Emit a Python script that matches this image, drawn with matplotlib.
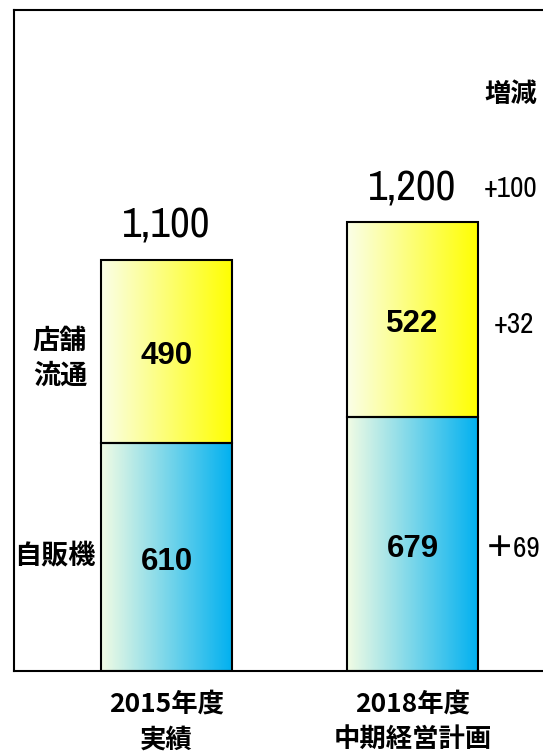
import matplotlib
matplotlib.use("Agg")
import matplotlib.pyplot as plt
import numpy as np
from matplotlib.colors import LinearSegmentedColormap

# values (units as shown on the chart)
years = ["2015年度\n実績", "2018年度\n中期経営計画"]
vending = [610, 679]      # 自販機
store = [490, 522]        # 店舗流通
totals = [1100, 1200]
diff_total = "+100"
diff_store = "+32"
diff_vending = "＋69"

num_font = ["Archivo Narrow", "Noto Sans CJK JP", "DejaVu Sans"]
bold_font = ["Liberation Sans", "Noto Sans CJK JP", "DejaVu Sans"]
jp_font = ["Noto Sans CJK JP", "DejaVu Sans"]

blue_cmap = LinearSegmentedColormap.from_list("blue", ["#F2FCE4", "#00B0F0"])
yellow_cmap = LinearSegmentedColormap.from_list("yellow", ["#FAFEE8", "#FFFF00"])

fig = plt.figure(figsize=(5.43, 7.56), dpi=100)
ax = fig.add_axes([0.0258, 0.1124, 0.9742, 0.8744])

x = np.arange(len(years))
w = 0.5325
bot = ax.bar(x, vending, width=w, facecolor="none", edgecolor="black", linewidth=1.5, zorder=3)
top = ax.bar(x, store, width=w, bottom=vending, facecolor="none", edgecolor="black", linewidth=1.5, zorder=3)

# horizontal gradient fill inside each rectangle
grad = np.linspace(0, 1, 256).reshape(1, -1)
for bars, cmap in ((bot, blue_cmap), (top, yellow_cmap)):
    for r in bars:
        x0, y0 = r.get_x(), r.get_y()
        ax.imshow(grad, cmap=cmap, aspect="auto", zorder=2,
                  extent=(x0, x0 + r.get_width(), y0, y0 + r.get_height()))

dy = 12  # nudge so the digits sit in the middle of each block
for i in range(len(years)):
    ax.text(x[i], vending[i] / 2 - dy, str(vending[i]), ha="center", va="center",
            fontsize=22.5, fontweight="bold", family=bold_font, zorder=4)
    ax.text(x[i], vending[i] + store[i] / 2 - dy, str(store[i]), ha="center", va="center",
            fontsize=22.5, fontweight="bold", family=bold_font, zorder=4)
    ax.text(x[i], totals[i] + 92, f"{totals[i]:,}", ha="center", va="center",
            fontsize=31, family=num_font)

# segment names on the left
ax.text(-0.433, vending[0] + store[0] / 2 - 18, "店舗\n流通", ha="center", va="center",
        fontsize=19.5, fontweight="bold", family=jp_font, linespacing=1.27)
ax.text(-0.453, vending[0] / 2 + 4, "自販機", ha="center", va="center",
        fontsize=19.5, fontweight="bold", family=jp_font)

# change column on the right
xr = 1.398
ax.text(xr, 1542, "増減", ha="center", va="center", fontsize=19, fontweight="bold", family=jp_font)
ax.text(xr, totals[1] + 100 - 10, diff_total, ha="center", va="center", fontsize=21,
        fontweight="bold", family=num_font)
ax.text(xr + 0.015, vending[1] + store[1] / 2 - 14, diff_store, ha="center", va="center",
        fontsize=21, fontweight="bold", family=num_font)
ax.text(xr + 0.01, vending[1] / 2 - 12, diff_vending, ha="center", va="center",
        fontsize=21, fontweight="bold", family=num_font)

ax.set_xlim(-0.62, 1.53)
ax.set_ylim(0, 1769)
ax.set_yticks([])
ax.set_xticks(x)
ax.set_xticklabels(years, fontsize=19, fontweight="bold", family=jp_font, linespacing=1.42)
ax.tick_params(axis="x", length=0, pad=14)
for s in ("left", "top", "bottom"):
    ax.spines[s].set_linewidth(1.5)
ax.spines["right"].set_visible(False)

fig.savefig("out.png", dpi=100)
